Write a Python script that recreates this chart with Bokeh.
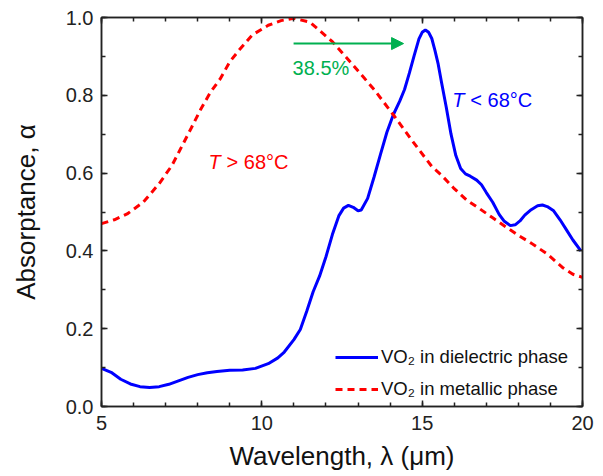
from bokeh.plotting import figure
from bokeh.models import (Range1d, LinearAxis, SingleIntervalTicker, PrintfTickFormatter,
                          CustomJSTickFormatter, Arrow, NormalHead)
from bokeh.core.properties import value
from bokeh.embed import file_html
from bokeh.resources import INLINE

# Dielectric phase (T < 68 C)
diel_x = [5.0, 5.3, 5.6, 5.9, 6.2, 6.5, 6.8, 7.1, 7.4, 7.7, 8.0, 8.3, 8.6, 9.0, 9.4, 9.8,
          10.2, 10.5, 10.7, 11.0, 11.2, 11.4, 11.6, 11.8, 12.0, 12.2, 12.4, 12.55, 12.7,
          12.85, 13.0, 13.1, 13.3, 13.5, 13.7, 13.9, 14.1, 14.3, 14.45, 14.6, 14.75, 14.9,
          15.0, 15.1, 15.2, 15.3, 15.4, 15.5, 15.6, 15.75, 15.9, 16.05, 16.2, 16.35, 16.5,
          16.7, 16.85, 17.0, 17.2, 17.4, 17.55, 17.75, 17.9, 18.05, 18.2, 18.4, 18.6, 18.75,
          18.9, 19.1, 19.3, 19.5, 19.7, 19.95]
diel_y = [0.098, 0.088, 0.070, 0.058, 0.051, 0.049, 0.051, 0.057, 0.066, 0.075, 0.082, 0.087,
          0.090, 0.093, 0.094, 0.098, 0.110, 0.125, 0.140, 0.172, 0.198, 0.245, 0.295, 0.335,
          0.385, 0.442, 0.490, 0.510, 0.517, 0.512, 0.503, 0.505, 0.535, 0.590, 0.648, 0.705,
          0.750, 0.785, 0.815, 0.857, 0.902, 0.945, 0.962, 0.968, 0.962, 0.946, 0.915, 0.880,
          0.835, 0.770, 0.700, 0.645, 0.612, 0.598, 0.592, 0.582, 0.570, 0.550, 0.525, 0.494,
          0.477, 0.465, 0.467, 0.477, 0.492, 0.506, 0.516, 0.518, 0.514, 0.503, 0.480, 0.454,
          0.428, 0.400]

# Metallic phase (T > 68 C)
metal_x = [5.0, 5.4, 5.8, 6.3, 6.8, 7.2, 7.5, 7.8, 8.1, 8.4, 8.7, 9.0, 9.3, 9.7, 10.2, 10.6,
           11.0, 11.5, 12.2, 12.8, 13.5, 14.1, 14.7, 15.3, 15.6, 16.0, 16.4, 16.8, 17.2, 17.6,
           18.0, 18.4, 18.9, 19.4, 19.7, 20.0]
metal_y = [0.470, 0.480, 0.495, 0.525, 0.573, 0.620, 0.668, 0.716, 0.765, 0.808, 0.842, 0.886,
           0.917, 0.955, 0.980, 0.992, 0.998, 0.988, 0.938, 0.882, 0.815, 0.750, 0.682, 0.617,
           0.595, 0.560, 0.530, 0.508, 0.485, 0.462, 0.440, 0.420, 0.392, 0.356, 0.340, 0.332]

x_ticks_interval = 5
y_ticks_interval = 0.2

FONT = "Liberation Sans"
AX = "#222222"

p = figure(output_backend="svg", toolbar_location=None,
           frame_width=481, frame_height=389,
           min_border_left=101, min_border_right=19, min_border_top=17, min_border_bottom=66,
           x_range=Range1d(5, 20), y_range=Range1d(0, 1.0),
           x_axis_label="Wavelength, λ (μm)", y_axis_label="Absorptance, α")
p.grid.visible = False
p.outline_line_color = AX
p.outline_line_width = 1.5
p.background_fill_color = "white"
p.border_fill_color = "white"

xt = SingleIntervalTicker(interval=x_ticks_interval, num_minor_ticks=5)
yt = SingleIntervalTicker(interval=y_ticks_interval, num_minor_ticks=2)
p.xaxis.ticker = xt
p.yaxis.ticker = yt
p.yaxis.formatter = PrintfTickFormatter(format="%.1f")

for ax in (p.xaxis[0], p.yaxis[0]):
    ax.axis_line_color = AX
    ax.axis_line_width = 1.5
    ax.major_tick_line_color = AX
    ax.minor_tick_line_color = AX
    ax.major_tick_line_width = 1.5
    ax.minor_tick_line_width = 1.5
    ax.major_tick_in = 6
    ax.major_tick_out = 0
    ax.minor_tick_in = 4
    ax.minor_tick_out = 0
    ax.major_label_text_font = FONT
    ax.major_label_text_font_size = "20px"
    ax.major_label_text_color = "#222222"
    ax.axis_label_text_font = FONT
    ax.axis_label_text_font_size = "26px"
    ax.axis_label_text_font_style = "normal"
    ax.axis_label_text_color = "#111111"
p.xaxis.major_label_standoff = 9
p.yaxis.major_label_standoff = 8
p.xaxis.axis_label_standoff = 8
p.yaxis.axis_label_standoff = 22

for loc, tk in (("above", xt), ("right", yt)):
    a = LinearAxis(ticker=tk, formatter=CustomJSTickFormatter(code="return ''"),
                   axis_line_color=AX,
                   axis_line_width=1.5, major_tick_line_color=AX, minor_tick_line_color=AX,
                   major_tick_line_width=1.5, minor_tick_line_width=1.5,
                   major_tick_in=6, major_tick_out=0, minor_tick_in=4, minor_tick_out=0,
                   major_label_standoff=0, major_label_text_font_size="1px")
    p.add_layout(a, loc)

p.line(diel_x, diel_y, line_color="#0000ff", line_width=3,
       legend_label="VO₂ in dielectric phase")
p.line(metal_x, metal_y, line_color="#ff0000", line_width=3, line_dash="7 5",
       legend_label="VO₂ in metallic phase")

lg = p.legend[0]
lg.location = (234, 6)
lg.border_line_color = None
lg.background_fill_alpha = 0
lg.padding = 0
lg.margin = 0
lg.spacing = 10
lg.glyph_width = 43
lg.glyph_height = 20
lg.label_height = 20
lg.label_standoff = 3
lg.label_text_font = FONT
lg.label_text_font_size = "18.5px"
lg.label_text_color = "#111111"

GREEN = "#00b050"
p.add_layout(Arrow(end=NormalHead(size=12, fill_color=GREEN, line_color=GREEN),
                   x_start=10.99, y_start=0.933, x_end=14.42, y_end=0.933,
                   line_color=GREEN, line_width=2))
p.text(x=[10.96], y=[0.871], text=["38.5%"], text_color=GREEN, text_font=value(FONT),
       text_font_size="20px", text_baseline="middle", text_align="left")

# Temperature labels
p.text(x=[8.34], y=[0.628], text=["T"], text_color="#ff0000", text_font=value(FONT),
       text_font_style="italic", text_font_size="20px", text_baseline="middle")
p.text(x=[8.34], y=[0.628], text=["> 68°C"], text_color="#ff0000", text_font=value(FONT),
       text_font_size="20px", text_baseline="middle", x_offset=18)
p.text(x=[15.94], y=[0.789], text=["T"], text_color="#0000ff", text_font=value(FONT),
       text_font_style="italic", text_font_size="20px", text_baseline="middle")
p.text(x=[15.94], y=[0.789], text=["< 68°C"], text_color="#0000ff", text_font=value(FONT),
       text_font_size="20px", text_baseline="middle", x_offset=18)

open("out.html", "w").write(file_html(p, INLINE))
